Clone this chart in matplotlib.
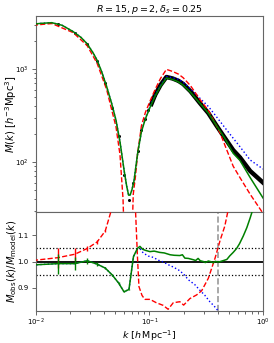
import numpy as np
import matplotlib
matplotlib.use('Agg')
import matplotlib.pyplot as plt

# ---- top panel: models ----
green_k = [0.0094, 0.0110, 0.0138, 0.0170, 0.0213, 0.0250, 0.0283, 0.0320, 0.0346, 0.0380,
           0.0420, 0.0464, 0.0507, 0.0550, 0.0600, 0.0630, 0.0655, 0.0675, 0.0700, 0.0730,
           0.0760, 0.0790, 0.0850, 0.0920, 0.1010, 0.1120, 0.1250, 0.1410, 0.1600, 0.1800,
           0.1980, 0.2300, 0.2780, 0.3300, 0.3900, 0.4600, 0.5460, 0.6260, 0.7700, 1.0]
green_M = [3030, 3090, 3145, 2950, 2520, 2180, 1860, 1480, 1240, 930,
           646, 428, 282, 165, 79, 55, 44, 44, 50, 62,
           90, 128, 212, 290, 385, 510, 650, 800, 770, 725,
           670, 560, 428, 335, 245, 180, 124, 104, 68, 41]

red_k = [0.0094, 0.0138, 0.0213, 0.0283, 0.0346, 0.0420, 0.0464, 0.0507, 0.0550, 0.0585,
         0.0610, 0.0690, 0.0720, 0.0753, 0.0786, 0.0850, 0.0920, 0.1010, 0.1120, 0.1250,
         0.1410, 0.1600, 0.1800, 0.1980, 0.2300, 0.2780, 0.3300, 0.3780, 0.4200, 0.5460,
         0.6260, 0.7700, 1.0]
red_M = [2950, 3080, 2460, 1780, 1150, 600, 367, 240, 120, 40,
         8, 8, 45, 70, 123, 246, 340, 450, 600, 790,
         990, 940, 880, 805, 660, 470, 358, 262, 203, 90,
         68, 45, 28]

blue_k = [0.0094, 0.0110, 0.0138, 0.0170, 0.0213, 0.0250, 0.0283, 0.0320, 0.0346, 0.0380,
          0.0420, 0.0464, 0.0507, 0.0550, 0.0600, 0.0630, 0.0655, 0.0675, 0.0700, 0.0730,
          0.0760, 0.0790, 0.0850, 0.0920, 0.1010, 0.1120, 0.1250, 0.1410, 0.1600, 0.1800,
          0.1980, 0.2300, 0.2780, 0.3300, 0.3900, 0.4600, 0.5460, 0.6260, 0.7700, 1.0]
blue_M = [3030, 3090, 3145, 2950, 2520, 2180, 1860, 1480, 1240, 930,
          646, 428, 282, 165, 79, 55, 44, 44, 50, 62,
          90, 128, 213, 295, 395, 525, 665, 830, 805, 775,
          720, 615, 485, 395, 305, 235, 180, 146, 105, 84]

# ---- top panel: measured ----
data_k = [0.00942, 0.0157, 0.0220, 0.0283, 0.0346, 0.0408, 0.0471, 0.0534, 0.0597, 0.0660,
          0.0723, 0.0785, 0.0848, 0.0911, 0.0974, 0.104, 0.112, 0.125, 0.141, 0.160,
          0.180, 0.198, 0.230, 0.278, 0.330, 0.390, 0.460, 0.546, 0.626, 0.770, 1.0]
data_M = [2990, 3020, 2435, 1865, 1223, 700, 380, 190, 72, 39,
          60, 131, 222, 292, 364, 420, 525, 670, 820, 790,
          745, 690, 575, 430, 335, 245, 182, 134, 112, 80, 60]

# ---- bottom panel: ratios ----
rg_k = [0.00942, 0.0157, 0.0220, 0.0283, 0.0346, 0.0408, 0.0471, 0.0534, 0.0597, 0.0660,
        0.0723, 0.0785, 0.0825, 0.0870, 0.0920, 0.101, 0.110, 0.123, 0.135, 0.152,
        0.165, 0.185, 0.195, 0.205, 0.220, 0.243, 0.255, 0.268, 0.280, 0.298,
        0.310, 0.330, 0.350, 0.365, 0.380, 0.400, 0.420, 0.450, 0.480, 0.510,
        0.546, 0.585, 0.620, 0.670, 0.720, 0.770, 0.800, 0.830]
rg = [0.987, 0.992, 0.992, 1.003, 0.990, 0.975, 0.948, 0.918, 0.884, 0.893,
      1.019, 1.051, 1.058, 1.047, 1.043, 1.038, 1.040, 1.035, 1.033, 1.026,
      1.024, 1.023, 1.026, 1.013, 1.012, 1.007, 1.004, 1.012, 1.003, 1.000,
      0.996, 1.002, 0.999, 0.995, 1.001, 0.998, 1.000, 1.004, 1.008, 1.022,
      1.035, 1.050, 1.068, 1.098, 1.130, 1.167, 1.190, 1.220]
rg_err = [0.04, 0.038, 0.025, 0.011, 0.007, 0.005, 0.004, 0.003, 0.002, 0.002]

rb_k = [0.00942, 0.0157, 0.0220, 0.0283, 0.0346, 0.0408, 0.0471, 0.0534, 0.0597, 0.0660,
        0.0723, 0.0785, 0.0825, 0.0880, 0.0976, 0.108, 0.120, 0.133, 0.146, 0.160,
        0.180, 0.200, 0.220, 0.250, 0.278, 0.308, 0.340, 0.370, 0.404, 0.420]
rb = [0.987, 0.992, 0.992, 1.003, 0.990, 0.975, 0.948, 0.918, 0.884, 0.893,
      1.019, 1.048, 1.050, 1.033, 1.021, 1.016, 1.005, 0.998, 0.988, 0.980,
      0.968, 0.952, 0.930, 0.912, 0.890, 0.870, 0.846, 0.830, 0.810, 0.800]

rr_k = [0.00942, 0.0157, 0.0220, 0.0283, 0.0346, 0.0408, 0.0471, 0.0534, 0.0597, 0.0660,
        0.0723, 0.0753, 0.0786, 0.0808, 0.0860, 0.0911, 0.101, 0.115, 0.132, 0.146,
        0.162, 0.185, 0.200, 0.227, 0.260, 0.288, 0.330, 0.378, 0.420, 0.460, 0.500]
rr = [1.004, 1.015, 1.028, 1.050, 1.075, 1.117, 1.21, 1.6, 2.5, 2.5,
      1.5, 1.199, 1.007, 0.904, 0.870, 0.855, 0.855, 0.842, 0.832, 0.817,
      0.842, 0.846, 0.833, 0.858, 0.872, 0.888, 0.936, 1.013, 1.083, 1.135, 1.21]

k_max = 0.404

fig = plt.figure(figsize=(2.74, 3.43), dpi=100)
ax1 = fig.add_axes([0.131, 0.382, 0.829, 0.571])
ax2 = fig.add_axes([0.131, 0.093, 0.829, 0.289], sharex=ax1)

for ax in (ax1, ax2):
    for s in ax.spines.values():
        s.set_color('0.4')
    ax.tick_params(which='both', labelsize=5, color='0.3', width=0.6, pad=2)
    ax.tick_params(which='major', length=3)
    ax.tick_params(which='minor', length=1.8)
ax2.tick_params(axis='x', which='both', pad=1.0)

# top panel
ax1.plot(data_k, data_M, 'o', color='k', ms=2.2, mec='none', zorder=2)
hk = [k for k in data_k if k >= 0.1]
hm = [m for k, m in zip(data_k, data_M) if k >= 0.1]
ax1.plot(hk, hm, '-', color='k', lw=3.2, zorder=2)
ax1.plot(blue_k, blue_M, ':', color='blue', lw=1.0, zorder=3)
ax1.plot(red_k, red_M, '--', color='red', lw=1.0, zorder=3)
ax1.plot(green_k, green_M, '-', color='green', lw=1.1, zorder=4)
ax1.set_xscale('log')
ax1.set_yscale('log')
ax1.set_xlim(0.01, 1.0)
ax1.set_ylim(29, 3700)
ax1.tick_params(labelbottom=False)
ax1.set_ylabel(r'$M(k)\ [h^{-3}\mathrm{Mpc}^3]$', fontsize=7.2)
ax1.set_title(r'$R=15, p=2, \delta_s=0.25$', fontsize=6.8, pad=3)

# bottom panel
n = len(rg_err)
ax2.errorbar(rb_k, rb, ls=':', color='blue', lw=1.0, zorder=3)
ax2.errorbar(rr_k, rr, yerr=rg_err + [0] * (len(rr_k) - n), ls='--', color='red', lw=1.0,
             elinewidth=1.0, zorder=3)
ax2.errorbar(rg_k, rg, yerr=rg_err + [0] * (len(rg_k) - n), ls='-', color='green', lw=1.1,
             elinewidth=1.0, zorder=4)
ax2.axhline(1.0, color='k', lw=1.3, zorder=2)
ax2.axhline(1.05, color='k', ls=':', lw=0.9, zorder=2)
ax2.axhline(0.95, color='k', ls=':', lw=0.9, zorder=2)
ax2.axvline(k_max, color='0.6', ls='--', lw=1.2, zorder=1)
ax2.set_ylim(0.81, 1.19)
ax2.set_yticks([0.9, 1.0, 1.1])
ax2.set_xlabel(r'$k\ [h\,\mathrm{Mpc}^{-1}]$', fontsize=6.8, va='top')
ax2.set_ylabel(r'$M_{\rm obs}(k)/M_{\rm model}(k)$', fontsize=7.2)

ax1.yaxis.set_label_coords(-0.075, 0.5)
ax2.yaxis.set_label_coords(-0.075, 0.5)
ax2.xaxis.set_label_coords(0.5, -0.175)

fig.savefig('out.png', dpi=100)
